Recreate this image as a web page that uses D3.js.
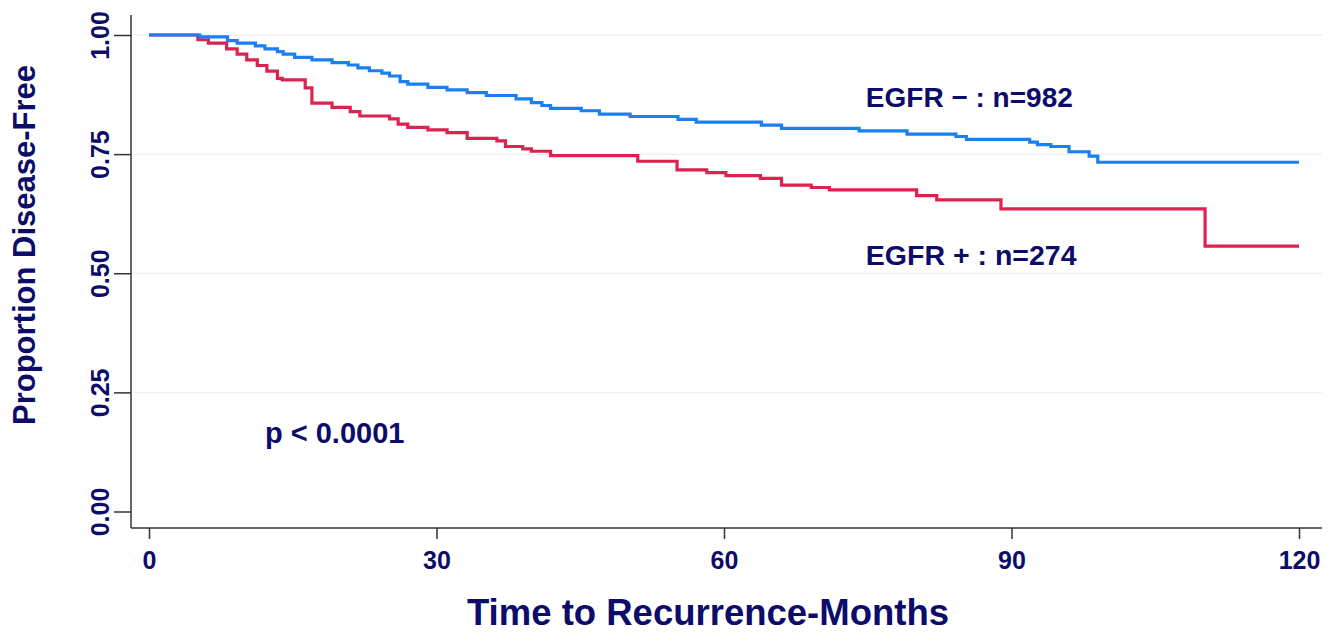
<!DOCTYPE html>
<html lang="en">
<head>
    <meta charset="UTF-8">
    <script src="https://d3js.org/d3.v7.min.js"></script>
    <style>
        body {
            margin: 0;
            background: #fff;
            font-family: "Liberation Sans", Arial, sans-serif;
        }
        .tick text, .lbl {
            fill: #0c0c6a;
            font-weight: bold;
        }
    </style>
</head>
<body>
    <svg id="chart"></svg>
    <script>
        // Kaplan-Meier steps: month where the drop happens, survival after it
        const negMonths = [0, 5.3, 8.2, 9.2, 11.1, 12.1, 13.4, 14.0, 15.2, 17.0, 19.1, 20.8, 21.8, 23.0, 24.3, 25.1, 26.2, 27.0, 29.1, 31.1, 33.2, 35.2, 38.3, 39.9, 41.0, 41.9, 45.1, 47.0, 50.2, 55.2, 57.1, 63.9, 66.0, 74.1, 79.1, 84.2, 85.3, 91.9, 92.7, 94.1, 96.0, 98.1, 99.0, 120];
        const negSurv = [1.0, 0.996, 0.988, 0.983, 0.977, 0.971, 0.965, 0.960, 0.953, 0.948, 0.942, 0.937, 0.931, 0.925, 0.920, 0.914, 0.902, 0.897, 0.890, 0.885, 0.879, 0.873, 0.866, 0.858, 0.852, 0.846, 0.841, 0.834, 0.829, 0.823, 0.817, 0.811, 0.804, 0.799, 0.792, 0.787, 0.781, 0.775, 0.770, 0.766, 0.755, 0.746, 0.733, 0.733];

        const posMonths = [0, 5.1, 6.2, 8.1, 9.2, 10.2, 11.3, 12.3, 13.4, 13.9, 16.3, 17.0, 19.1, 21.0, 22.0, 25.1, 26.0, 27.0, 29.1, 31.1, 33.2, 36.3, 37.2, 39.0, 39.9, 41.9, 51.0, 55.1, 58.2, 60.2, 63.8, 66.0, 69.1, 71.0, 80.1, 82.2, 88.9, 110.2, 120];
        const posSurv = [1.0, 0.990, 0.983, 0.971, 0.960, 0.948, 0.936, 0.924, 0.909, 0.906, 0.889, 0.857, 0.848, 0.839, 0.830, 0.824, 0.813, 0.806, 0.801, 0.795, 0.783, 0.778, 0.766, 0.761, 0.756, 0.747, 0.735, 0.717, 0.711, 0.705, 0.699, 0.685, 0.680, 0.675, 0.663, 0.654, 0.635, 0.557, 0.557];

        const xTicks = [0, 30, 60, 90, 120];
        const yTicks = [0, 0.25, 0.5, 0.75, 1.0];
        const gridTicks = [0.25, 0.5, 0.75, 1.0];

        const W = 1334, H = 635;
        const svg = d3.select("#chart").attr("width", W).attr("height", H);

        const x = d3.scaleLinear().domain([0, 120]).range([149, 1299]);
        const y = d3.scaleLinear().domain([0, 1]).range([511.5, 35]);

        const axisX = 131, axisY = 528;

        // faint grid
        svg.selectAll(".grid")
            .data(gridTicks)
            .enter()
            .append("line")
            .attr("x1", axisX)
            .attr("x2", 1322)
            .attr("y1", d => y(d))
            .attr("y2", d => y(d))
            .attr("stroke", "#edf1f3")
            .attr("stroke-width", 1.5);

        // y axis
        const gy = svg.append("g")
            .attr("transform", `translate(${axisX},0)`)
            .call(d3.axisLeft(y).tickValues(yTicks).tickSize(17).tickSizeOuter(0).tickFormat(d3.format(".2f")));
        gy.select(".domain").remove();
        gy.selectAll(".tick line").attr("stroke", "#333").attr("stroke-width", 1.5);
        gy.selectAll(".tick text")
            .attr("font-size", 25)
            .attr("transform", "translate(-31,0) rotate(-90)")
            .attr("x", 0)
            .attr("dy", "0.35em")
            .attr("text-anchor", "middle");

        // x axis
        const gx = svg.append("g")
            .attr("transform", `translate(0,${axisY})`)
            .call(d3.axisBottom(x).tickValues(xTicks).tickSize(11).tickSizeOuter(0));
        gx.select(".domain").remove();
        gx.selectAll(".tick line").attr("stroke", "#333").attr("stroke-width", 1.5);
        gx.selectAll(".tick text")
            .attr("font-size", 25)
            .attr("y", 23);

        svg.append("line")
            .attr("x1", axisX).attr("x2", axisX)
            .attr("y1", 15).attr("y2", axisY)
            .attr("stroke", "#333").attr("stroke-width", 1.5);
        svg.append("line")
            .attr("x1", axisX).attr("x2", 1322)
            .attr("y1", axisY).attr("y2", axisY)
            .attr("stroke", "#333").attr("stroke-width", 1.5);

        // survival curves
        const line = d3.line()
            .x(d => x(d[0]))
            .y(d => y(d[1]))
            .curve(d3.curveStepAfter);

        svg.append("path")
            .datum(posMonths.map((m, i) => [m, posSurv[i]]))
            .attr("fill", "none")
            .attr("stroke", "#dc2350")
            .attr("stroke-width", 3.2)
            .attr("d", line);

        svg.append("path")
            .datum(negMonths.map((m, i) => [m, negSurv[i]]))
            .attr("fill", "none")
            .attr("stroke", "#1a7ff2")
            .attr("stroke-width", 3.2)
            .attr("d", line);

        // labels
        svg.append("text").attr("class", "lbl")
            .attr("x", x(74.8)).attr("y", y(0.870))
            .attr("dy", "0.35em").attr("font-size", 28)
            .text("EGFR \u2212 : n=982");

        svg.append("text").attr("class", "lbl")
            .attr("x", x(74.8)).attr("y", y(0.538))
            .attr("dy", "0.35em").attr("font-size", 28.5)
            .text("EGFR + : n=274");

        svg.append("text").attr("class", "lbl")
            .attr("x", x(12.1)).attr("y", y(0.165))
            .attr("dy", "0.35em").attr("font-size", 29)
            .text("p < 0.0001");

        svg.append("text").attr("class", "lbl")
            .attr("x", 708).attr("y", 612)
            .attr("dy", "0.35em").attr("font-size", 36.5)
            .attr("text-anchor", "middle")
            .text("Time to Recurrence-Months");

        svg.append("text").attr("class", "lbl")
            .attr("transform", "translate(24,245) rotate(-90)")
            .attr("dy", "0.35em").attr("font-size", 31)
            .attr("text-anchor", "middle")
            .text("Proportion Disease-Free");
    </script>
</body>
</html>
